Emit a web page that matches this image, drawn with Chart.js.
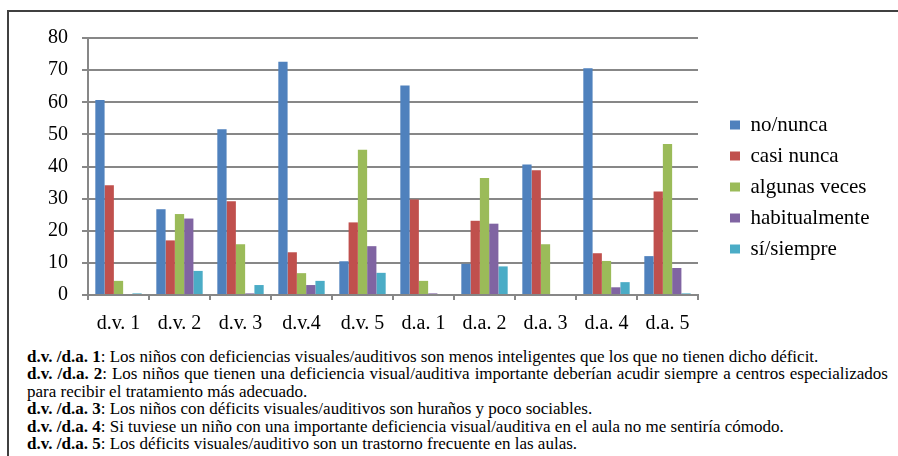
<!DOCTYPE html>
<html>
<head>
<meta charset="utf-8">
<title>Deficiencias visuales / auditivas</title>
<script src="https://cdn.jsdelivr.net/npm/chart.js@4"></script>
<style>
  body { margin: 0; background: #fff; width: 898px; height: 456px; overflow: hidden; position: relative; }
  #frame { position: absolute; left: 7px; top: 10px; width: 1000px; height: 1000px; border-top: 2px solid #404040; border-left: 2px solid #404040; }
  #chartBox { position: absolute; left: 0; top: 0; width: 898px; height: 336px; }
  #notes { position: absolute; left: 27px; top: 348px; width: 861px; font-family: "Liberation Serif", serif; font-size: 17px; line-height: 17.4px; color: #000; }
  #notes p { margin: 0; text-align: justify; }
</style>
</head>
<body>
<div id="frame"></div>
<div id="chartBox"><canvas id="myChart"></canvas></div>
<div id="notes"></div>
<script>
// Categories (items of the questionnaire)
const categories = ["d.v. 1", "d.v. 2", "d.v. 3", "d.v.4", "d.v. 5", "d.a. 1", "d.a. 2", "d.a. 3", "d.a. 4", "d.a. 5"];

// Percentages per answer
const noNunca = [60.7, 26.7, 51.6, 72.6, 10.5, 65.2, 9.7, 40.6, 70.6, 12.1];
const casiNunca = [34.2, 17.0, 29.2, 13.3, 22.6, 29.7, 23.1, 38.8, 13.0, 32.2];
const algunasVeces = [4.4, 25.2, 15.8, 6.8, 45.2, 4.4, 36.4, 15.8, 10.6, 47.0];
const habitualmente = [0, 23.8, 0.5, 3.1, 15.2, 0.5, 22.2, 0, 2.4, 8.4];
const siSiempre = [0.5, 7.5, 3.1, 4.4, 6.9, 0, 8.9, 0, 4.0, 0.5];

const seriesNames = ["no/nunca", "casi nunca", "algunas veces", "habitualmente", "sí/siempre"];
const seriesColors = ["#4F81BD", "#C0504D", "#9BBB59", "#8064A2", "#4BACC6"];

// Y axis range
const yMin = 0;
const yMax = 80;
const yStep = 10;

// Footnotes
const noteKeys = ["d.v. /d.a. 1", "d.v. /d.a. 2", "d.v. /d.a. 3", "d.v. /d.a. 4", "d.v. /d.a. 5"];
const noteTexts = [
  "Los niños con deficiencias visuales/auditivos son menos inteligentes que los que no tienen dicho déficit.",
  "Los niños que tienen una deficiencia visual/auditiva importante deberían acudir siempre a centros especializados para recibir el tratamiento más adecuado.",
  "Los niños con déficits visuales/auditivos son huraños y poco sociables.",
  "Si tuviese un niño con una importante deficiencia visual/auditiva en el aula no me sentiría cómodo.",
  "Los déficits visuales/auditivo son un trastorno frecuente en las aulas."
];

const notesEl = document.getElementById("notes");
noteKeys.forEach((key, i) => {
  const p = document.createElement("p");
  const b = document.createElement("b");
  b.textContent = key;
  p.appendChild(b);
  p.appendChild(document.createTextNode(": " + noteTexts[i]));
  notesEl.appendChild(p);
});

const serif = "'Liberation Serif', serif";

const allSeries = [noNunca, casiNunca, algunasVeces, habitualmente, siSiempre];
const datasets = allSeries.map((values, i) => ({
  label: seriesNames[i],
  data: values,
  backgroundColor: seriesColors[i],
  borderWidth: 0,
  categoryPercentage: 0.76,
  barPercentage: 1.0,
}));

const gridGrey = "#878787";

// keep the legend to a fixed width and push it a bit to the right
const legendSpot = {
  id: "legendSpot",
  afterInit(chart) {
    const legend = chart.legend;
    const fit = legend.fit;
    legend.fit = function () {
      fit.call(this);
      this.width = 200;
    };
  },
  afterLayout(chart) {
    chart.legend.left += 22;
    chart.legend.right += 22;
  },
};

const canvas = document.getElementById("myChart");
canvas.width = 898;
canvas.height = 336;

Chart.defaults.font.family = serif;
Chart.defaults.color = "#000";

new Chart(canvas, {
  type: "bar",
  data: { labels: categories, datasets: datasets },
  plugins: [legendSpot],
  options: {
    responsive: false,
    animation: false,
    layout: { padding: { top: 38, right: 0, bottom: 0, left: 0 } },
    plugins: {
      tooltip: { enabled: false },
      legend: {
        position: "right",
        labels: {
          font: { size: 21, family: serif },
          color: "#000",
          boxWidth: 10,
          boxHeight: 9,
          padding: 10,
        },
      },
    },
    scales: {
      x: {
        grid: {
          offset: true,
          drawOnChartArea: false,
          drawTicks: true,
          tickLength: 5,
          color: gridGrey,
          lineWidth: 2,
        },
        border: { color: gridGrey, width: 2 },
        ticks: { font: { size: 20, family: serif }, padding: 12, maxRotation: 0 },
        afterFit(scale) { scale.height = 41; },
      },
      y: {
        min: yMin,
        max: yMax,
        ticks: { stepSize: yStep, font: { size: 20, family: serif }, padding: 14 },
        grid: { color: gridGrey, lineWidth: 2, tickLength: 6 },
        border: { color: gridGrey, width: 2 },
        afterFit(scale) { scale.width = 88; },
      },
    },
  },
});
</script>
</body>
</html>
